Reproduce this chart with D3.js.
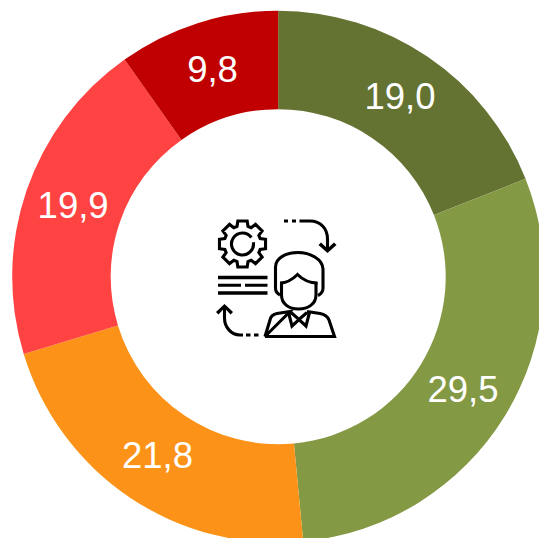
<!DOCTYPE html>
<html><head><meta charset="utf-8">
<script src="https://cdn.jsdelivr.net/npm/d3@7"></script>
<style>html,body{margin:0;padding:0;background:#fff;overflow:hidden}svg{display:block}</style>
</head><body><svg id="c" width="539" height="538"></svg>
<script>
const categories = ["A","B","C","D","E"];
const seriesValues = [19.0, 29.5, 21.8, 19.9, 9.8];
const tickLabels = ["19,0","29,5","21,8","19,9","9,8"];
const colours = ["#647332","#849944","#FC9318","#FF4343","#C00000"];

const svg = d3.select("#c");
const g = svg.append("g").attr("transform","translate(278.2,276.7)");
const pie = d3.pie().sort(null).value(d=>d.v);
const arc = d3.arc().innerRadius(167.5).outerRadius(266);
const data = pie(categories.map((c,i)=>({c,v:seriesValues[i],l:tickLabels[i],k:colours[i]})));
g.selectAll("path.s").data(data).join("path").attr("class","s")
  .attr("d",arc).attr("fill",d=>d.data.k);
g.selectAll("text").data(data).join("text")
  .attr("transform",d=>`translate(${arc.centroid(d)})`)
  .attr("text-anchor","middle").attr("dy","0.32em")
  .attr("font-family","Liberation Sans, Arial, sans-serif").attr("font-size",36.5)
  .attr("fill","#fff").text(d=>d.data.l);

// Central icon (decoration)
const ic = svg.append("g").attr("fill","none").attr("stroke","#000").attr("stroke-width",3.1).attr("stroke-linejoin","miter");
// gear
const cx=242.5,cy=244,teeth=8,ro=23.5,ri=18.5;
const pts=[];
for(let i=0;i<teeth;i++){
  const a=i*2*Math.PI/teeth-Math.PI/2, w=0.2, w2=0.3;
  [[a-w2,ri],[a-w,ro],[a+w,ro],[a+w2,ri]].forEach(([t,r])=>pts.push([cx+r*Math.cos(t),cy+r*Math.sin(t)]));
}
ic.append("path").attr("d",d3.line().curve(d3.curveLinearClosed)(pts));
ic.append("path").attr("d",d3.arc().innerRadius(11).outerRadius(11).startAngle(0.45*Math.PI).endAngle(2.3*Math.PI)()).attr("transform",`translate(${cx},${cy})`);
// text lines
ic.append("path").attr("stroke-width",3.4).attr("d","M218 277.5H267.5M218 293H267.5");
ic.append("path").attr("stroke-width",3).attr("d","M218 285.3H241M245 285.3H267.5");
// top arrow
ic.append("path").attr("d","M284 221H288M292 221H296M299.5 221H310C321 221 327.5 229 327.5 239V249");
ic.append("path").attr("fill","#000").attr("stroke","none").attr("d","M318.5 245L321 242.5L327.5 248.5L334 242.5L336.5 245L327.5 253Z");
// bottom arrow
ic.append("path").attr("d","M258.5 335H254M250.5 335H246M243 335H240C231 335 224.5 327 224.5 318V308");
ic.append("path").attr("fill","#000").attr("stroke","none").attr("d","M216 312L218.5 314.5L224.5 308L230.5 314.5L233 312L224.5 304Z");
// person
ic.append("path").attr("d","M280 295C276 293 275.5 291 275.5 288V267C275.5 258 286 252.5 298 252.5C310 252.5 322.5 259 323 269V288C323 291 321 294 318 295.5");
ic.append("path").attr("d","M280 283C288 283 293 279 297.5 274.5C302 279 309 283 317.5 283");
ic.append("path").attr("d","M281.5 282V295C281.5 304 289 309 298.5 309C308 309 316 304 316 295V282");
ic.append("path").attr("d","M265 336.5H334.5L329 320C327 315 323 314 320 313.5L307 311.5M290 311.5L277 313.5C274 314 271 315 270 320L265 336.5Z");
ic.append("path").attr("d","M288.5 312.5L292 326L299 319.5L306 326L309.5 312.5M291 312.5L299 319.5L307 312.5");
</script></body></html>
